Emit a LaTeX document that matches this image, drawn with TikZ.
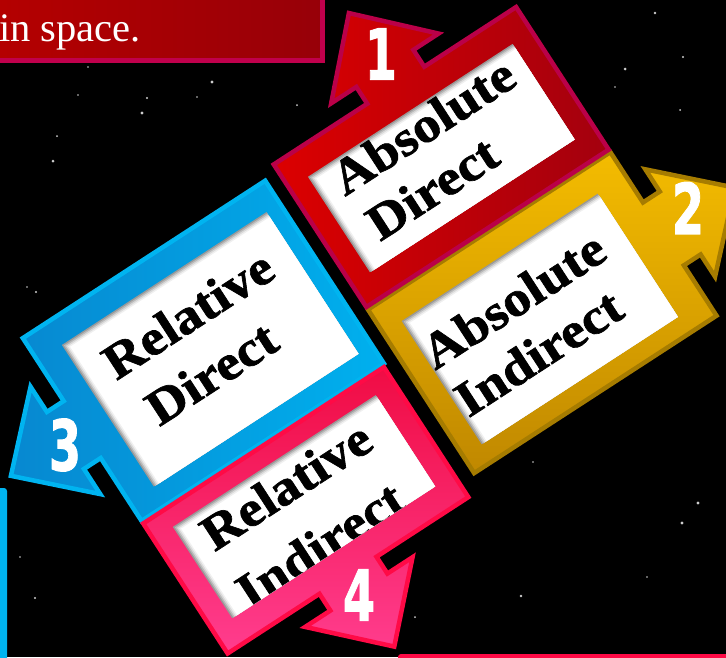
\documentclass[tikz,border=0pt]{standalone}
\usepackage{fontspec}
\setmainfont{Liberation Serif}
\newfontfamily\labfont[FakeStretch=1.1, FakeBold=1.3]{Liberation Serif Bold}
\newfontfamily\digfont[FakeBold=1.5]{DejaVu Sans Bold}
\definecolor{redA}{HTML}{DC0000}
\definecolor{redB}{HTML}{A3000E}
\definecolor{redE}{HTML}{BA0048}
\definecolor{yelA}{HTML}{F4BC00}
\definecolor{yelB}{HTML}{C08800}
\definecolor{yelE}{HTML}{A67C00}
\definecolor{bluA}{HTML}{0788D0}
\definecolor{bluB}{HTML}{00B0EE}
\definecolor{bluE}{HTML}{00B4F0}
\definecolor{pnkA}{HTML}{F00C44}
\definecolor{pnkB}{HTML}{FF3D8E}
\definecolor{pnkE}{HTML}{FF0A46}
\definecolor{banA}{HTML}{B50000}
\definecolor{banB}{HTML}{970008}
\definecolor{banE}{HTML}{C0004C}
\newcommand\shadowpanel[4]{%
  \clip (#1,-#2) rectangle (#3,-#4);
  \fill[gray!80] (#1,-#2) rectangle (#3,-#4);
  \fill[gray!55] (#1+1.5,-#2-1.5) rectangle (#3+9,-#4-9);
  \fill[gray!30] (#1+3,-#2-3) rectangle (#3+9,-#4-9);
  \fill[gray!12] (#1+4.5,-#2-4.5) rectangle (#3+9,-#4-9);
  \fill[white] (#1+6,-#2-6) rectangle (#3+9,-#4-9);
}
\begin{document}
\begin{tikzpicture}[x=1pt,y=1pt,
  frame/.style={line width=4.5pt, line join=miter},
  lab/.style={anchor=base west, inner sep=0pt, text=black,
    font=\labfont\fontsize{50}{58}\selectfont},
  num/.style={text=white, inner sep=0pt,
    font=\digfont\fontsize{70}{70}\selectfont},
  star/.style={fill=white!80!black}]
\fill[black] (0,0) rectangle (726,-657);
\useasboundingbox (0,0) rectangle (726,-657);
% stars
\foreach \sx/\sy/\sr in {212/82/1.6, 142/113/1.6, 147/98/1.1, 53/161/1.5, 57/136/1.0,
  36/292/1.1, 27/287/0.8, 78/95/0.8, 197/97/0.8, 88/67/0.8, 297/105/1.0,
  655/13/1.3, 625/69/1.5, 683/57/1.1, 615/87/0.9, 680/110/1.0,
  698/503/1.6, 682/523/1.6, 647/577/0.9, 521/596/1.3, 533/462/0.8,
  415/617/1.0, 20/557/0.8, 35/598/1.2}
  \fill[star] (\sx,-\sy) circle (\sr);
% banner top left
\path[draw=banE, line width=5pt, left color=banA, right color=banB] (-10,10) rectangle (322,-60);
\node[anchor=base west, inner sep=0pt, text=white, font=\fontsize{40.5}{40}\selectfont] (space) at (-1,-41) {in space.};
% partial shapes at the borders
\fill[bluE, rounded corners=3pt] (-20,-488) rectangle (7,-680);
\fill[pnkE, rounded corners=3pt] (398,-654) rectangle (760,-690);
\begin{scope}[rotate=33, transform shape]
  % yellow: Absolute Indirect
  \path[frame, draw=yelE, top color=yelA, bottom color=yelB]
    (140,-460) -- (429,-460) -- (429,-520) -- (449,-520) -- (449,-493.5)
    -- (514,-557.5) -- (449,-621.5) -- (449,-595) -- (429,-595)
    -- (429,-655) -- (140,-655) -- cycle;
  \begin{scope}
    \shadowpanel{162}{488}{396}{635}
    \node[lab] (ai1) at (163,-548) {Absolute};
    \node[lab] (ai2) at (165,-606) {Indirect};
  \end{scope}
  % red: Absolute Direct
  \path[frame, draw=redE, left color=redA, right color=redB]
    (140,-287) -- (251.5,-287) -- (251.5,-267) -- (221.5,-267) -- (285.5,-201)
    -- (349.5,-267) -- (319.5,-267) -- (319.5,-287) -- (429,-287)
    -- (429,-457) -- (140,-457) -- cycle;
  \begin{scope}
    \shadowpanel{162}{316}{406}{430}
    \node[lab] (ad1) at (182,-353) {Absolute};
    \node[lab] (ad2) at (187,-410) {Direct};
  \end{scope}
  % blue: Relative Direct
  \path[frame, draw=bluE, left color=bluA, right color=bluB]
    (-165,-296) -- (124,-296) -- (124,-514) -- (-165,-514) -- (-165,-439)
    -- (-185,-439) -- (-185,-469) -- (-250,-405) -- (-185,-341) -- (-185,-371)
    -- (-165,-371) -- cycle;
  \begin{scope}
    \shadowpanel{-136}{323}{108}{492}
    \node[lab] (rd1) at (-110,-383) {Relative};
    \node[lab] (rd2) at (-99,-445) {Direct};
  \end{scope}
  % pink: Relative Indirect
  \path[frame, draw=pnkE, top color=pnkA, bottom color=pnkB]
    (-165,-517) -- (122,-517) -- (122,-672) -- (12.5,-672) -- (12.5,-692)
    -- (42.5,-692) -- (-21.5,-757) -- (-85.5,-692) -- (-55.5,-692)
    -- (-55.5,-672) -- (-165,-672) -- cycle;
  \begin{scope}
    \shadowpanel{-142}{536}{100}{645}
    \node[lab] (ri1) at (-121,-580) {Relative};
    \node[lab] (ri2) at (-123,-648) {Indirect};
  \end{scope}
\end{scope}
% numbers
\node[num] (n1) at (381,-54) {\scalebox{0.66}[1]{1}};
\node[num] (n2) at (688,-208) {\scalebox{0.66}[1]{2}};
\node[num] (n3) at (65,-445) {\scalebox{0.66}[1]{3}};
\node[num] (n4) at (359,-595) {\scalebox{0.66}[1]{4}};
\end{tikzpicture}
\end{document}
